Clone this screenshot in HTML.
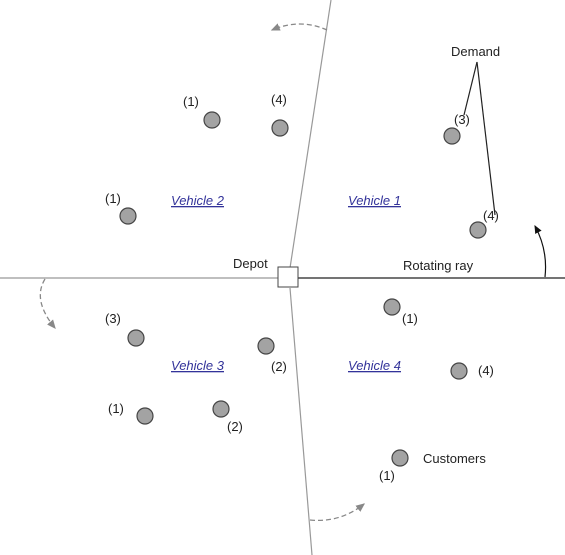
<!DOCTYPE html>
<html><head><style>
body{margin:0;background:#fff;}
svg{display:block;font-family:"Liberation Sans",Arial,sans-serif;}
.l{font-size:13px;fill:#222;}
.v{font-size:13px;fill:#33339a;font-style:italic;text-decoration:underline;}
</style></head><body>
<svg width="565" height="555" viewBox="0 0 565 555">
<defs>
<marker id="g" markerWidth="8" markerHeight="8" refX="6" refY="4" orient="auto"><path d="M0,1 L7,4 L0,7 Z" fill="#888"/></marker>
<marker id="b" markerWidth="8" markerHeight="8" refX="6" refY="4" orient="auto"><path d="M0,1 L7,4 L0,7 Z" fill="#111"/></marker>
</defs>
<line x1="0" y1="278" x2="280" y2="278" stroke="#999" stroke-width="1.2"/>
<line x1="298" y1="278" x2="565" y2="278" stroke="#222" stroke-width="1.2"/>
<line x1="331" y1="0" x2="290" y2="268" stroke="#999" stroke-width="1.2"/>
<line x1="290" y1="288" x2="312" y2="555" stroke="#999" stroke-width="1.2"/>
<rect x="278" y="267" width="20" height="20" fill="#fff" stroke="#444" stroke-width="1"/>
<path d="M327,30 Q300,18 272,30" fill="none" stroke="#888" stroke-width="1.3" stroke-dasharray="5,3" marker-end="url(#g)"/>
<path d="M45,279 Q32,300 55,328" fill="none" stroke="#888" stroke-width="1.3" stroke-dasharray="5,3" marker-end="url(#g)"/>
<path d="M310,520 Q340,523 364,504" fill="none" stroke="#888" stroke-width="1.3" stroke-dasharray="5,3" marker-end="url(#g)"/>
<path d="M545,277 Q548,250 535,226" fill="none" stroke="#111" stroke-width="1.2" marker-end="url(#b)"/>
<line x1="477" y1="62" x2="464" y2="115" stroke="#222" stroke-width="1.2"/>
<line x1="477" y1="62" x2="495" y2="215" stroke="#222" stroke-width="1.2"/>
<g fill="#a3a3a3" stroke="#444" stroke-width="1.2">
<circle cx="212" cy="120" r="8"/><circle cx="280" cy="128" r="8"/><circle cx="452" cy="136" r="8"/>
<circle cx="478" cy="230" r="8"/><circle cx="128" cy="216" r="8"/>
<circle cx="392" cy="307" r="8"/><circle cx="136" cy="338" r="8"/><circle cx="266" cy="346" r="8"/>
<circle cx="459" cy="371" r="8"/><circle cx="145" cy="416" r="8"/><circle cx="221" cy="409" r="8"/>
<circle cx="400" cy="458" r="8"/>
</g>
<text class="l" x="183" y="106">(1)</text>
<text class="l" x="271" y="104">(4)</text>
<text class="l" x="451" y="56">Demand</text>
<text class="l" x="454" y="124">(3)</text>
<text class="l" x="483" y="220">(4)</text>
<text class="l" x="105" y="203">(1)</text>
<text class="v" x="171" y="205">Vehicle 2</text>
<text class="v" x="348" y="205">Vehicle 1</text>
<text class="l" x="233" y="268">Depot</text>
<text class="l" x="403" y="270">Rotating ray</text>
<text class="l" x="402" y="323">(1)</text>
<text class="l" x="105" y="323">(3)</text>
<text class="v" x="171" y="370">Vehicle 3</text>
<text class="l" x="271" y="371">(2)</text>
<text class="v" x="348" y="370">Vehicle 4</text>
<text class="l" x="478" y="375">(4)</text>
<text class="l" x="108" y="413">(1)</text>
<text class="l" x="227" y="431">(2)</text>
<text class="l" x="423" y="463">Customers</text>
<text class="l" x="379" y="480">(1)</text>
</svg>
</body></html>
